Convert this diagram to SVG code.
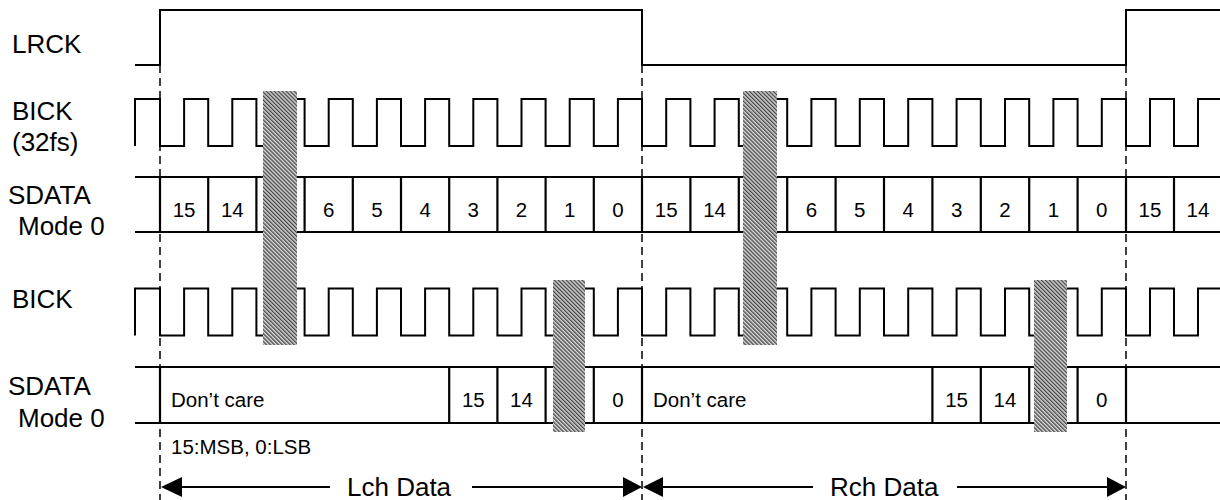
<svg xmlns="http://www.w3.org/2000/svg" width="1220" height="500" viewBox="0 0 1220 500">
<defs>
<style>
.w{fill:none;stroke:#000;stroke-width:2;stroke-linejoin:miter}
.bx{stroke:#000;stroke-width:2.2}
.dash{stroke:#000;stroke-width:1.5;stroke-dasharray:8,5}
.sig{font-family:"Liberation Sans",Arial,sans-serif;font-size:26px;fill:#000}
.dat{font-family:"Liberation Sans",Arial,sans-serif;font-size:20.5px;fill:#000}
.mid{text-anchor:middle}
.hz{fill:url(#hatch);stroke:none}
</style>
<pattern id="hatch" width="2.8" height="2.8" patternUnits="userSpaceOnUse" patternTransform="rotate(-45)">
<rect width="2.8" height="2.8" fill="#d8d8d8"/>
<rect width="1.3" height="2.8" fill="#444"/>
</pattern>
<path id="bickwave" d="M135,146 V99 H160 V146 H184.1 V99 H208.2 V146 H232.3 V99 H256.4 V146 H280.5 V99 H304.6 V146 H328.7 V99 H352.8 V146 H376.9 V99 H401 V146 H425.1 V99 H449.2 V146 H473.3 V99 H497.4 V146 H521.5 V99 H545.6 V146 H569.7 V99 H593.8 V146 H617.9 V99 H642 V146 H666.2 V99 H690.4 V146 H714.6 V99 H738.8 V146 H763 V99 H787.2 V146 H811.4 V99 H835.6 V146 H859.8 V99 H884 V146 H908.2 V99 H932.4 V146 H956.6 V99 H980.8 V146 H1005 V99 H1029.2 V146 H1053.4 V99 H1077.6 V146 H1101.8 V99 H1126 V146 H1150 V99 H1174 V146 H1198 V99 H1220"/>
</defs>
<rect width="1220" height="500" fill="#fff"/>

<g id="lrck">
<text class="sig" x="12" y="53">LRCK</text>
<path class="w" d="M135,65 H160 V10 H642 V65 H1126 V10 H1220"/>
</g>

<g id="bick32">
<text class="sig" x="12" y="120">BICK</text>
<text class="sig" x="12" y="151">(32fs)</text>
<use href="#bickwave" class="w"/>
</g>

<g id="sdata1">
<text class="sig" x="8" y="204">SDATA</text>
<text class="sig" x="18" y="235">Mode 0</text>
<path class="bx" d="M135,177 H1220 M135,232 H1220 M160,177 V232 M208.2,177 V232 M256.4,177 V232 M304.6,177 V232 M352.8,177 V232 M401,177 V232 M449.2,177 V232 M497.4,177 V232 M545.6,177 V232 M593.8,177 V232 M642,177 V232 M690.4,177 V232 M738.8,177 V232 M787.2,177 V232 M835.6,177 V232 M884,177 V232 M932.4,177 V232 M980.8,177 V232 M1029.2,177 V232 M1077.6,177 V232 M1126,177 V232 M1174,177 V232"/>
<g class="dat mid">
<text x="184.1" y="217">15</text>
<text x="232.3" y="217">14</text>
<text x="328.7" y="217">6</text>
<text x="376.9" y="217">5</text>
<text x="425.1" y="217">4</text>
<text x="473.3" y="217">3</text>
<text x="521.5" y="217">2</text>
<text x="569.7" y="217">1</text>
<text x="617.9" y="217">0</text>
<text x="666.2" y="217">15</text>
<text x="714.6" y="217">14</text>
<text x="811.4" y="217">6</text>
<text x="859.8" y="217">5</text>
<text x="908.2" y="217">4</text>
<text x="956.6" y="217">3</text>
<text x="1005" y="217">2</text>
<text x="1053.4" y="217">1</text>
<text x="1101.8" y="217">0</text>
<text x="1150" y="217">15</text>
<text x="1198" y="217">14</text>
</g>
</g>

<g id="bick">
<text class="sig" x="12" y="308">BICK</text>
<use href="#bickwave" class="w" transform="translate(0,189.5)"/>
</g>

<g id="sdata2">
<text class="sig" x="8" y="395">SDATA</text>
<text class="sig" x="18" y="427">Mode 0</text>
<path class="bx" d="M135,367 H1220 M135,423 H1220 M160,367 V423 M449.2,367 V423 M497.4,367 V423 M545.6,367 V423 M593.8,367 V423 M642,367 V423 M932.4,367 V423 M980.8,367 V423 M1029.2,367 V423 M1077.6,367 V423 M1126,367 V423"/>
<text class="dat" x="171" y="407">Don’t care</text>
<text class="dat" x="653" y="407">Don’t care</text>
<g class="dat mid">
<text x="473.3" y="407">15</text>
<text x="521.5" y="407">14</text>
<text x="617.9" y="407">0</text>
<text x="956.6" y="407">15</text>
<text x="1005" y="407">14</text>
<text x="1101.8" y="407">0</text>
</g>
<text class="dat" x="171" y="454">15:MSB, 0:LSB</text>
</g>

<g id="hatches">
<rect class="hz" x="263" y="91" width="34" height="254"/>
<rect class="hz" x="743" y="91" width="34" height="254"/>
<rect class="hz" x="553" y="280" width="32" height="152"/>
<rect class="hz" x="1034" y="280" width="33" height="152"/>
</g>

<g id="connectors">
<line class="dash" x1="160" y1="65" x2="160" y2="500"/>
<line class="dash" x1="642" y1="65" x2="642" y2="500"/>
<line class="dash" x1="1126" y1="65" x2="1126" y2="500"/>
<path class="w" d="M182,487 H330 M472,487 H623 M663,487 H813 M957,487 H1107"/>
<polygon points="161,487 182,477 182,497" fill="#000"/>
<polygon points="642,487 623,477 623,497" fill="#000"/>
<polygon points="643,487 663,477 663,497" fill="#000"/>
<polygon points="1126,487 1107,477 1107,497" fill="#000"/>
<text class="sig" x="347" y="496">Lch Data</text>
<text class="sig" x="830" y="496">Rch Data</text>
</g>
</svg>
